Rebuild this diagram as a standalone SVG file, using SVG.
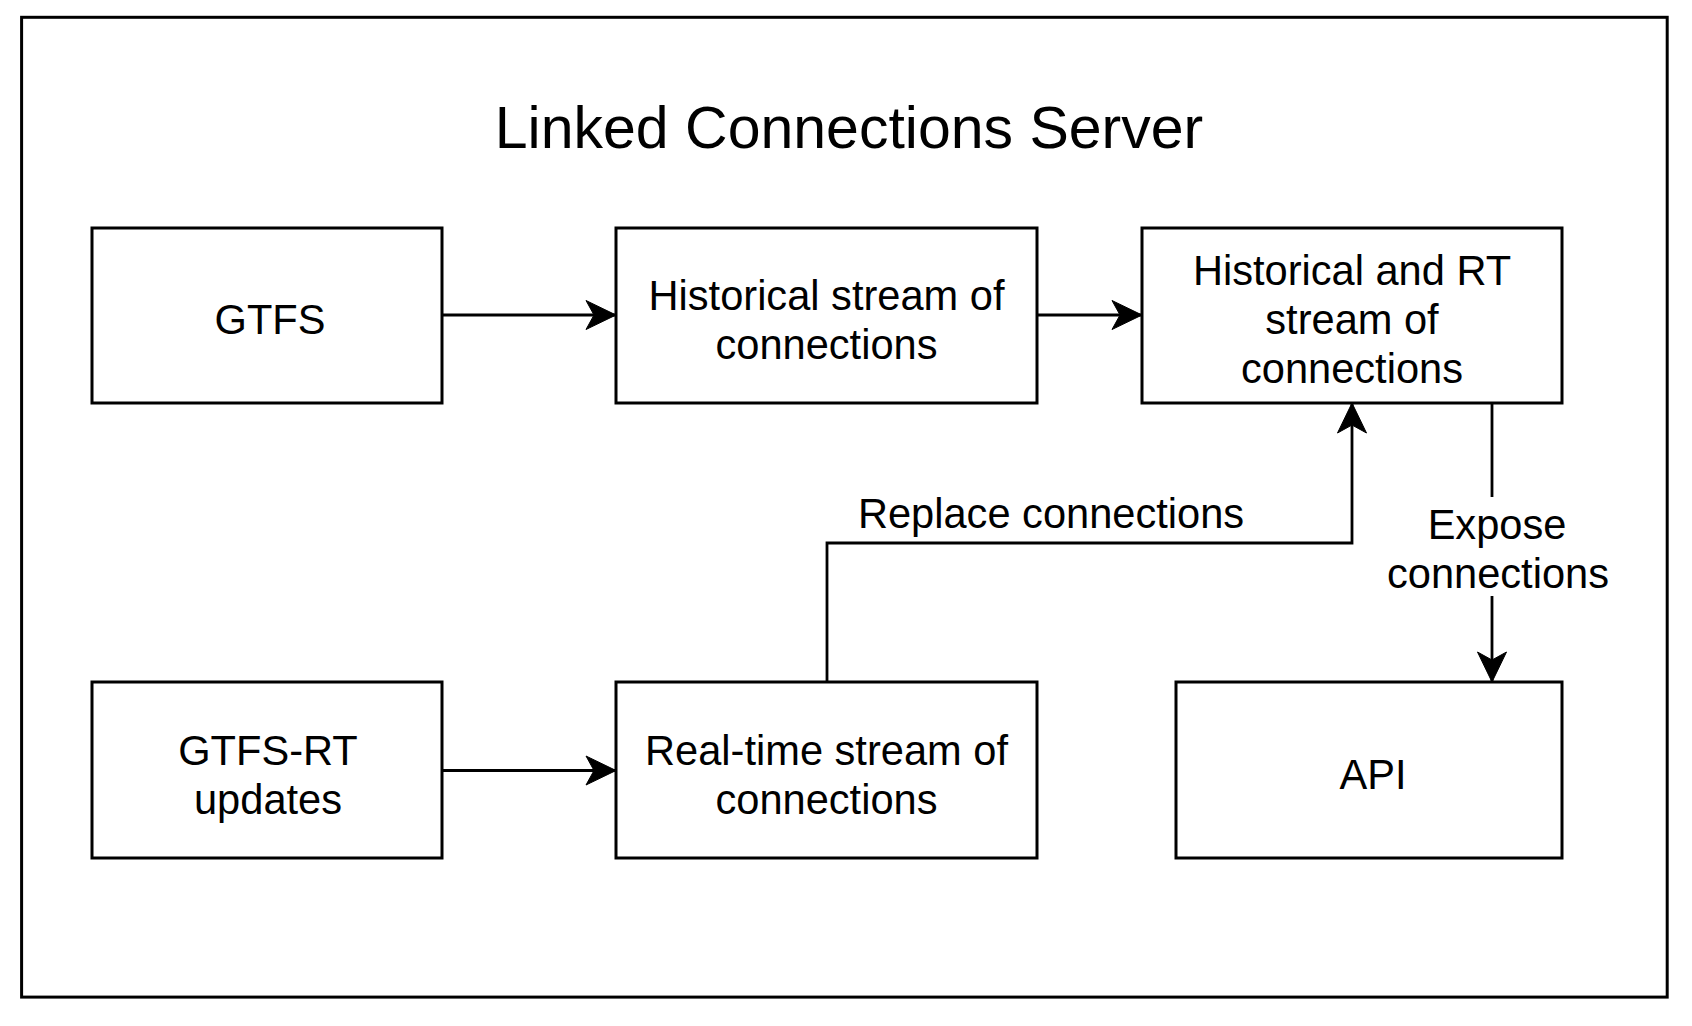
<svg xmlns="http://www.w3.org/2000/svg" width="1692" height="1026" viewBox="0 0 1692 1026">
  <style>
    .box { fill: #ffffff; stroke: #000000; stroke-width: 3; }
    .frame { fill: #ffffff; stroke: #000000; stroke-width: 3; }
    .edge { fill: none; stroke: #000000; stroke-width: 2.8; }
    .txt { font-family: "Liberation Sans", Arial, Helvetica, sans-serif; font-size: 41.6px; fill: #000000; text-anchor: middle; }
    .title { font-family: "Liberation Sans", Arial, Helvetica, sans-serif; font-size: 59px; fill: #000000; text-anchor: middle; }
  </style>
  <defs>
    <marker id="arrow" viewBox="0 0 32 32" refX="31" refY="16" markerWidth="32" markerHeight="32" markerUnits="userSpaceOnUse" orient="auto">
      <path d="M31,16 L1,1.5 L9,16 L1,30.5 Z" fill="#000000" stroke="#000000" stroke-width="1"/>
    </marker>
  </defs>
  <rect width="1692" height="1026" fill="#ffffff"/>
  <g id="server">
    <rect class="frame" x="21.6" y="17.3" width="1645.6" height="979.8"/>
    <text class="title" x="849" y="148">Linked Connections Server</text>
  </g>
  <g id="edges">
    <path class="edge" d="M442,315 L616,315" marker-end="url(#arrow)"/>
    <path class="edge" d="M1037,315 L1142,315" marker-end="url(#arrow)"/>
    <path class="edge" d="M442,770.5 L616,770.5" marker-end="url(#arrow)"/>
    <path class="edge" d="M827,682 L827,543 L1352,543 L1352,403" marker-end="url(#arrow)"/>
    <text class="txt" x="1051" y="528">Replace connections</text>
    <path class="edge" d="M1492,403 L1492,682" marker-end="url(#arrow)"/>
    <rect x="1385" y="497" width="228" height="99" fill="#ffffff"/>
    <text class="txt" x="1497" y="539">Expose</text>
    <text class="txt" x="1498" y="588">connections</text>
  </g>
  <g id="gtfs">
    <rect class="box" x="92" y="228" width="350" height="175"/>
    <text class="txt" x="270" y="334">GTFS</text>
  </g>
  <g id="historical">
    <rect class="box" x="616" y="228" width="421" height="175"/>
    <text class="txt" x="826.5" y="309.5">Historical stream of</text>
    <text class="txt" x="826.5" y="358.5">connections</text>
  </g>
  <g id="historical-rt">
    <rect class="box" x="1142" y="228" width="420" height="175"/>
    <text class="txt" x="1352" y="285">Historical and RT</text>
    <text class="txt" x="1352" y="334">stream of</text>
    <text class="txt" x="1352" y="383">connections</text>
  </g>
  <g id="gtfs-rt">
    <rect class="box" x="92" y="682" width="350" height="176"/>
    <text class="txt" x="268" y="764.5">GTFS-RT</text>
    <text class="txt" x="268" y="813.5">updates</text>
  </g>
  <g id="realtime">
    <rect class="box" x="616" y="682" width="421" height="176"/>
    <text class="txt" x="826.5" y="764.5">Real-time stream of</text>
    <text class="txt" x="826.5" y="813.5">connections</text>
  </g>
  <g id="api">
    <rect class="box" x="1176" y="682" width="386" height="176"/>
    <text class="txt" x="1373" y="789">API</text>
  </g>
</svg>
